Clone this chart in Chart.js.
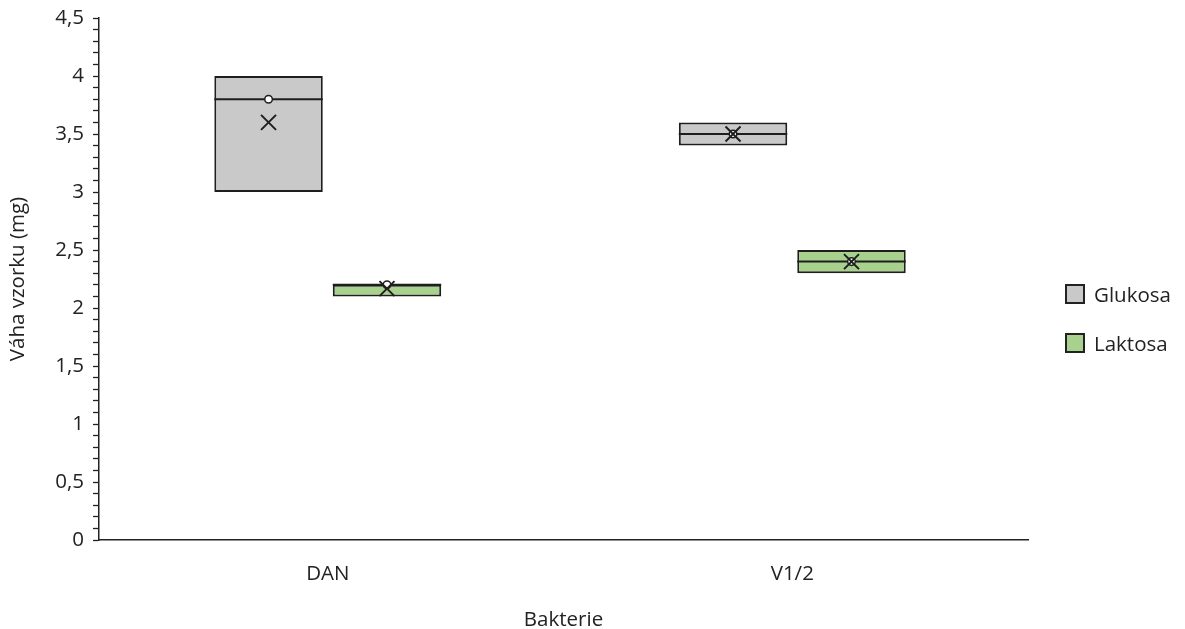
<!DOCTYPE html>
<html>
<head>
<meta charset="utf-8">
<script src="https://cdn.jsdelivr.net/npm/chart.js@4/dist/chart.umd.min.js"></script>
<style>
  html, body { margin: 0; padding: 0; background: #fff; }
  #wrap { position: relative; width: 1185px; height: 629px; }
  #legend { position: absolute; left: 1065px; top: 0; font-family: 'Open Sans', sans-serif; font-size: 20.5px; color: #222; }
  .item { position: absolute; left: 0; white-space: nowrap; display: flex; align-items: center; height: 20px; line-height: 20px; }
  .sw { width: 20px; height: 20px; border: 2px solid #222; box-sizing: border-box; margin-right: 9px; }
</style>
</head>
<body>
<div id="wrap">
  <canvas id="c" width="1185" height="629"></canvas>
  <div id="legend">
    <div class="item" style="top:284px"><div class="sw" style="background:#c9c9c9"></div>Glukosa</div>
    <div class="item" style="top:333px"><div class="sw" style="background:#a9d18e"></div>Laktosa</div>
  </div>
</div>
<script>
// ---- data ----
const categories = ['DAN', 'V1/2'];
const seriesNames = ['Glukosa', 'Laktosa'];
const glukosaQ1 = [3.0, 3.4];
const glukosaQ3 = [4.0, 3.6];
const glukosaMedian = [3.8, 3.5];
const glukosaMean = [3.6, 3.5];
const glukosaPoints = [3.8, 3.5];
const laktosaQ1 = [2.1, 2.3];
const laktosaQ3 = [2.2, 2.5];
const laktosaMedian = [2.2, 2.4];
const laktosaMean = [2.1667, 2.4];
const laktosaPoints = [2.2, 2.4];
const yTicks = [0, 0.5, 1, 1.5, 2, 2.5, 3, 3.5, 4, 4.5];

const fills = ['#c9c9c9', '#a9d18e'];
const stroke = '#1e1e1e';

const medians = [glukosaMedian, laktosaMedian];
const means = [glukosaMean, laktosaMean];
const points = [glukosaPoints, laktosaPoints];

const boxExtras = {
  id: 'boxExtras',
  afterDatasetsDraw(chart) {
    const ctx = chart.ctx;
    const y = chart.scales.y;
    ctx.save();
    ctx.strokeStyle = stroke;
    chart.data.datasets.forEach((ds, di) => {
      const meta = chart.getDatasetMeta(di);
      meta.data.forEach((bar, i) => {
        const half = bar.width / 2;
        const cx = bar.x;
        // median
        const my = y.getPixelForValue(medians[di][i]);
        ctx.lineWidth = 2;
        ctx.beginPath();
        ctx.moveTo(cx - half, my);
        ctx.lineTo(cx + half, my);
        ctx.stroke();
        // inner point (circle)
        const py = y.getPixelForValue(points[di][i]);
        ctx.lineWidth = 1.5;
        ctx.fillStyle = '#fff';
        ctx.beginPath();
        ctx.arc(cx, py, 3.8, 0, Math.PI * 2);
        ctx.fill();
        ctx.stroke();
        // mean (x marker)
        const ey = y.getPixelForValue(means[di][i]);
        const r = 7.5;
        ctx.lineWidth = 2;
        ctx.beginPath();
        ctx.moveTo(cx - r, ey - r); ctx.lineTo(cx + r, ey + r);
        ctx.moveTo(cx - r, ey + r); ctx.lineTo(cx + r, ey - r);
        ctx.stroke();
      });
    });
    ctx.restore();
  }
};

const font = { family: "'Open Sans', sans-serif", size: 20.5 };

new Chart(document.getElementById('c'), {
  type: 'bar',
  data: {
    labels: categories,
    datasets: [
      { label: seriesNames[0], data: glukosaQ1.map((v, i) => [v, glukosaQ3[i]]), backgroundColor: fills[0], borderColor: stroke, borderWidth: 2, borderSkipped: false },
      { label: seriesNames[1], data: laktosaQ1.map((v, i) => [v, laktosaQ3[i]]), backgroundColor: fills[1], borderColor: stroke, borderWidth: 2, borderSkipped: false }
    ]
  },
  options: {
    responsive: false,
    animation: false,
    categoryPercentage: 0.51,
    barPercentage: 0.9156,
    layout: { padding: { top: 18, right: 157, left: 0, bottom: 0 } },
    plugins: { legend: { display: false }, tooltip: { enabled: false } },
    scales: {
      x: {
        afterBuildTicks(scale) { scale._startValue = -0.4925; },
        grid: { display: false, drawTicks: false },
        border: { display: true, color: '#222', width: 1.5 },
        ticks: { color: '#222', font: font, padding: 22 },
        title: { display: true, text: 'Bakterie', color: '#222', font: font, padding: { top: 0, bottom: -3 } },
        afterFit(scale) { scale.height = 89; }
      },
      y: {
        min: 0, max: 4.5,
        afterBuildTicks(scale) {
          const t = [];
          for (let k = 0; k <= 45; k++) t.push({ value: k / 10 });
          scale.ticks = t;
        },
        afterFit(scale) { scale.width = 99; scale.paddingTop = 0; scale.paddingBottom = 0; },
        grid: { drawOnChartArea: false, drawTicks: true, tickLength: 6, tickColor: '#222', tickWidth: 1.3 },
        border: { display: true, color: '#222', width: 1.5 },
        ticks: {
          color: '#222', font: font, padding: 9, autoSkip: false,
          callback(v) {
            const k = Math.round(v * 10);
            if (k % 5 !== 0) return '';
            const lbl = yTicks.find(t => Math.abs(t - k / 10) < 1e-6);
            return lbl === undefined ? '' : String(lbl).replace('.', ',');
          }
        },
        title: { display: true, text: 'Váha vzorku (mg)', color: '#222', font: font, padding: { top: 6, bottom: 6 } }
      }
    }
  },
  plugins: [boxExtras]
});
</script>
</body>
</html>
